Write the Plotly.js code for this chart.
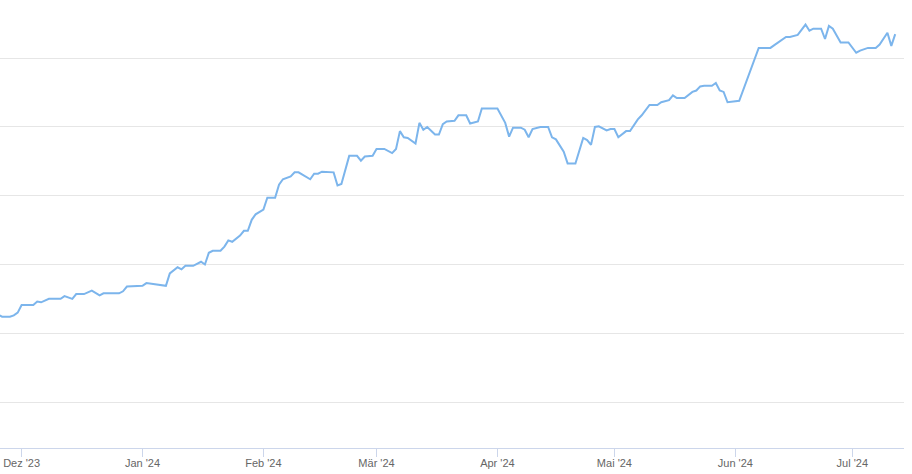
<!DOCTYPE html>
<html>
<head>
<meta charset="utf-8">
<script src="https://cdn.plot.ly/plotly-3.0.1.min.js"></script>
<style>
  html, body { margin: 0; padding: 0; background: #ffffff; }
  #chart { width: 912px; height: 474px; }
</style>
</head>
<body>
<div id="chart"></div>
<script>
const dates = [
  "2023-11-25","2023-11-26","2023-11-28","2023-11-29","2023-11-30",
  "2023-12-01","2023-12-04","2023-12-05","2023-12-06","2023-12-08","2023-12-11","2023-12-12","2023-12-14","2023-12-15","2023-12-17","2023-12-19","2023-12-21","2023-12-22","2023-12-26","2023-12-27","2023-12-28",
  "2024-01-01","2024-01-02","2024-01-04","2024-01-07","2024-01-08","2024-01-10","2024-01-11","2024-01-12","2024-01-14","2024-01-16","2024-01-17","2024-01-18","2024-01-19","2024-01-21","2024-01-22","2024-01-23","2024-01-24","2024-01-26","2024-01-27","2024-01-28","2024-01-29","2024-01-30",
  "2024-02-01","2024-02-02","2024-02-04","2024-02-05","2024-02-06","2024-02-08","2024-02-09","2024-02-10","2024-02-13","2024-02-14","2024-02-15","2024-02-16","2024-02-19","2024-02-20","2024-02-21","2024-02-23","2024-02-25","2024-02-26","2024-02-27","2024-02-29",
  "2024-03-01","2024-03-03","2024-03-05","2024-03-06","2024-03-07","2024-03-08","2024-03-09","2024-03-11","2024-03-12","2024-03-13","2024-03-14","2024-03-16","2024-03-17","2024-03-18","2024-03-19","2024-03-21","2024-03-22","2024-03-24","2024-03-25","2024-03-27","2024-03-28",
  "2024-04-01","2024-04-03","2024-04-04","2024-04-05","2024-04-07","2024-04-08","2024-04-09","2024-04-10","2024-04-12","2024-04-14","2024-04-15","2024-04-16","2024-04-18","2024-04-19","2024-04-21","2024-04-23","2024-04-24","2024-04-25","2024-04-26","2024-04-27","2024-04-29","2024-04-30",
  "2024-05-01","2024-05-02","2024-05-04","2024-05-05","2024-05-07","2024-05-08","2024-05-10","2024-05-12","2024-05-13","2024-05-15","2024-05-16","2024-05-17","2024-05-19","2024-05-21","2024-05-22","2024-05-23","2024-05-24","2024-05-26","2024-05-27","2024-05-28","2024-05-29","2024-05-30",
  "2024-06-02","2024-06-07","2024-06-10","2024-06-11","2024-06-14","2024-06-15","2024-06-17","2024-06-19","2024-06-20","2024-06-21","2024-06-23","2024-06-24","2024-06-25","2024-06-26","2024-06-28","2024-06-30",
  "2024-07-02","2024-07-03","2024-07-05","2024-07-07","2024-07-08","2024-07-10","2024-07-11","2024-07-12"
];
const values = [
  227,224,224,226,230,
  241,241,246,245,250,250,254,250,257,257,262,255,258,258,261,268,
  269,273,271,269,287,296,293,298,298,304,300,317,320,320,326,335,333,342,349,349,365,373,
  380,397,397,416,424,428,434,434,424,432,432,435,434,415,417,458,458,451,457,458,
  468,468,462,468,494,485,484,476,506,496,500,489,489,504,508,509,517,517,505,508,527,
  527,506,486,499,499,496,485,497,500,500,485,482,464,447,447,484,481,474,500,501,495,497,
  497,485,494,494,511,517,532,532,536,539,546,542,542,551,553,559,560,560,564,553,551,536,
  538,615,615,619,631,631,634,649,640,643,643,628,647,643,623,623,
  608,611,615,615,620,637,618,635
];
const tickDates = ["2023-12-01","2024-01-01","2024-02-01","2024-03-01","2024-04-01","2024-05-01","2024-06-01","2024-07-01"];
const tickLabels = ["Dez '23","Jan '24","Feb '24","Mär '24","Apr '24","Mai '24","Jun '24","Jul '24"];

const trace = {
  x: dates,
  y: values,
  type: "scatter",
  mode: "lines",
  line: { color: "#7cb5ec", width: 2, shape: "linear" },
  hoverinfo: "skip"
};

const layout = {
  width: 912,
  height: 474,
  margin: { l: 0, r: 8, t: 0, b: 26, pad: 0 },
  paper_bgcolor: "#ffffff",
  plot_bgcolor: "#ffffff",
  showlegend: false,
  font: { family: "Liberation Sans, Arial, sans-serif", size: 11, color: "#666666" },
  xaxis: {
    type: "date",
    range: ["2023-11-25 11:00", "2024-07-14 06:00"],
    tickmode: "array",
    tickvals: tickDates,
    ticktext: tickLabels,
    ticks: "outside",
    ticklen: 8,
    tickwidth: 1,
    tickcolor: "#ccd6eb",
    ticklabelstandoff: -3,
    showgrid: false,
    showline: true,
    linecolor: "#ccd6eb",
    linewidth: 1,
    zeroline: false,
    tickfont: { family: "Liberation Sans, Arial, sans-serif", size: 11, color: "#666666" },
    fixedrange: true
  },
  yaxis: {
    range: [33.1, 684.7],
    tick0: 0,
    dtick: 100,
    showticklabels: false,
    ticks: "",
    showgrid: true,
    gridcolor: "#e6e6e6",
    gridwidth: 1,
    zeroline: false,
    showline: false,
    fixedrange: true
  }
};

Plotly.newPlot("chart", [trace], layout, { displayModeBar: false, staticPlot: true });
</script>
</body>
</html>
